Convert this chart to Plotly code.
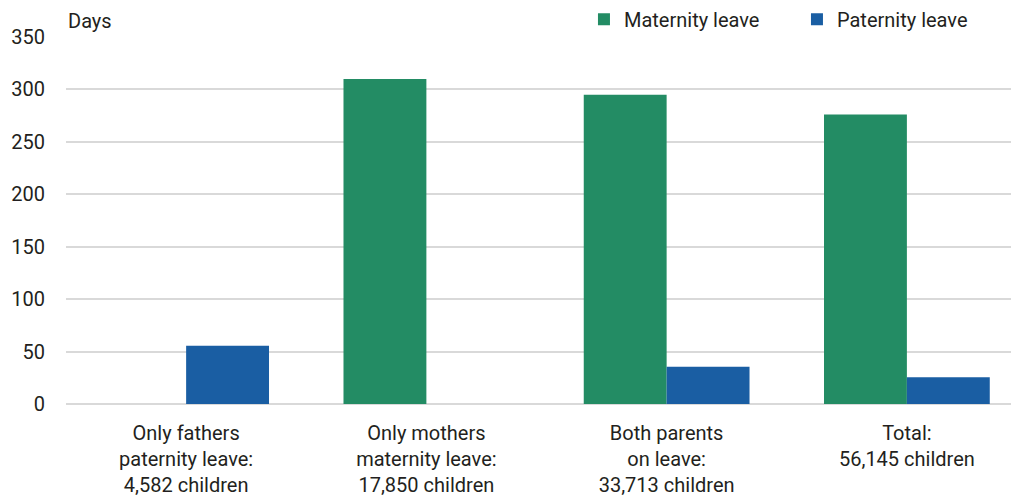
import plotly.graph_objects as go

categories = [
    "Only fathers<br>paternity leave:<br>4,582 children",
    "Only mothers<br>maternity leave:<br>17,850 children",
    "Both parents<br>on leave:<br>33,713 children",
    "Total:<br>56,145 children",
]
maternity = [None, 310, 295, 276]
paternity = [55.5, None, 35.5, 25.5]
y_ticks = [0, 50, 100, 150, 200, 250, 300, 350]

GREEN = "#238C64"
BLUE = "#1A5EA3"
FONT = "Roboto, sans-serif"
TXT = "#231F20"

fig = go.Figure()
fig.add_trace(go.Bar(name="Maternity leave", x=categories, y=maternity,
                     marker=dict(color=GREEN, line=dict(width=0))))
fig.add_trace(go.Bar(name="Paternity leave", x=categories, y=paternity,
                     marker=dict(color=BLUE, line=dict(width=0))))

fig.update_layout(
    width=1011, height=490,
    margin=dict(l=58, r=4, t=29, b=94, autoexpand=False),
    paper_bgcolor="white", plot_bgcolor="white",
    barmode="group", bargap=0.31, bargroupgap=0,
    font=dict(family=FONT, size=20, color=TXT),
    showlegend=True,
    legend=dict(orientation="h", x=0.5458, xanchor="left", y=0.995, yanchor="bottom",
                font=dict(size=20, color=TXT), itemwidth=30, traceorder="normal",
                entrywidth=168, entrywidthmode="pixels",
                bgcolor="rgba(0,0,0,0)"),
    xaxis=dict(showgrid=False, showline=False, ticks="", tickfont=dict(size=20),
               ticklabelstandoff=15, range=[-0.5, 3.45]),
    yaxis=dict(range=[0, 350], tickvals=y_ticks, showgrid=True, gridcolor="#D9D9D9",
               gridwidth=2, zeroline=True, zerolinecolor="#D9D9D9", zerolinewidth=2,
               showline=False, ticks="", tickfont=dict(size=20), ticklabelstandoff=20),
    annotations=[dict(text="Days", xref="paper", yref="paper", x=0, y=1.0,
                      xanchor="left", yanchor="bottom", showarrow=False,
                      font=dict(size=20, color=TXT), xshift=0, yshift=2)],
)

fig.write_html("out.html")
